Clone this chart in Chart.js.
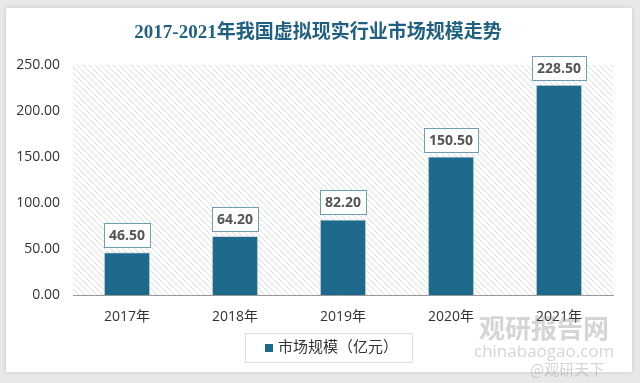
<!DOCTYPE html>
<html>
<head>
<meta charset="utf-8">
<script src="https://cdn.jsdelivr.net/npm/chart.js@4"></script>
<style>
  html, body { margin: 0; padding: 0; background: #e8e8e8; }
  #wrap { position: relative; width: 640px; height: 383px; }
  #card { position: absolute; left: 6px; top: 8px; width: 626px; height: 364px; background: #fff;
          box-shadow: 0 0 4px rgba(0,0,0,0.15); }
  canvas { position: absolute; left: 0; top: 0; }
</style>
</head>
<body>
<div id="wrap">
  <div id="card"></div>
  <canvas id="myChart" width="640" height="383"></canvas>
</div>
<script>
// data
const chartTitle = "2017-2021年我国虚拟现实行业市场规模走势";
const years = ["2017年", "2018年", "2019年", "2020年", "2021年"];
const marketSize = [46.50, 64.20, 82.20, 150.50, 228.50];
const yTicks = [0, 50, 100, 150, 200, 250];

const barColor = "#1d6a8c";
const sansFont = "'Open Sans', 'Noto Sans CJK SC', sans-serif";

// hatched plot background
function makeHatch() {
  const c = document.createElement("canvas");
  c.width = 6; c.height = 6;
  const g = c.getContext("2d");
  g.fillStyle = "#fff";
  g.fillRect(0, 0, 6, 6);
  g.strokeStyle = "#dcdcdc";
  g.lineWidth = 1;
  g.beginPath();
  g.moveTo(0, 0); g.lineTo(6, 6);
  g.moveTo(-3, 3); g.lineTo(3, 9);
  g.moveTo(3, -3); g.lineTo(9, 3);
  g.stroke();
  return c;
}

const extras = {
  id: "extras",
  beforeDatasetsDraw(chart) {
    const { ctx, chartArea: a } = chart;
    ctx.save();
    ctx.fillStyle = ctx.createPattern(makeHatch(), "repeat");
    ctx.fillRect(a.left, a.top, a.right - a.left, a.bottom - a.top);
    // title
    ctx.font = "bold 19px 'Liberation Serif', 'Noto Sans CJK SC', serif";
    ctx.fillStyle = "#1f5f80";
    ctx.textAlign = "center";
    ctx.textBaseline = "middle";
    ctx.fillText(chartTitle, 318, 33);
    ctx.restore();
  },
  afterDatasetsDraw(chart) {
    const { ctx } = chart;
    const meta = chart.getDatasetMeta(0);
    ctx.save();
    // value labels in boxes
    ctx.font = "bold 14px " + sansFont;
    ctx.textAlign = "center";
    ctx.textBaseline = "middle";
    meta.data.forEach((bar, i) => {
      const txt = marketSize[i].toFixed(2);
      const w = ctx.measureText(txt).width + 10;
      const h = 24;
      const x = bar.x - w / 2;
      const y = bar.y - 5 - h;
      ctx.fillStyle = "#fff";
      ctx.fillRect(x, y, w, h);
      ctx.strokeStyle = "#6f9db3";
      ctx.lineWidth = 1;
      ctx.strokeRect(Math.round(x) + 0.5, Math.round(y) + 0.5, Math.round(w), h);
      ctx.fillStyle = "#555";
      ctx.fillText(txt, bar.x, y + h / 2 + 1);
    });
    // legend
    const lx = 245, ly = 333, lw = 167, lh = 29;
    ctx.strokeStyle = "#dddddd";
    ctx.strokeRect(lx + 0.5, ly + 0.5, lw, lh);
    ctx.fillStyle = barColor;
    ctx.fillRect(265, 344, 8, 8);
    ctx.font = "15px " + sansFont;
    ctx.fillStyle = "#333";
    ctx.textAlign = "left";
    ctx.fillText(chart.data.datasets[0].label, 278, 348);
    // watermark
    ctx.globalAlpha = 0.35;
    ctx.fillStyle = "#888";
    ctx.font = "bold 26px 'Noto Sans CJK SC', sans-serif";
    ctx.fillText("观研报告网", 479, 328);
    ctx.font = "17px " + sansFont;
    ctx.fillText("chinabaogao.com", 474, 352);
    ctx.font = "15px 'Noto Sans CJK SC', sans-serif";
    ctx.fillText("@观研天下", 530, 369);
    ctx.restore();
  }
};

const config = {
  type: "bar",
  data: {
    labels: years,
    datasets: [
      {
        label: "市场规模（亿元）",
        data: marketSize,
        backgroundColor: barColor,
        borderColor: "#cfd8dc",
        borderWidth: 1,
        barPercentage: 0.43,
        categoryPercentage: 1.0
      }
    ]
  },
  options: {
    responsive: false,
    animation: false,
    layout: { padding: { left: 0, right: 27, top: 65, bottom: 0 } },
    plugins: {
      legend: { display: false },
      tooltip: { enabled: false },
      title: { display: false }
    },
    scales: {
      x: {
        grid: { display: false, drawTicks: false },
        border: { color: "#999" },
        ticks: { color: "#333", font: { family: sansFont, size: 14 }, padding: 14 },
        afterFit: s => { s.height = 88; }
      },
      y: {
        min: 0,
        max: 250,
        afterBuildTicks: s => { s.ticks = yTicks.map(v => ({ value: v })); },
        grid: { display: false, drawTicks: false },
        border: { display: false },
        ticks: {
          color: "#333",
          font: { family: sansFont, size: 14 },
          padding: 13,
          callback: v => v.toFixed(2)
        },
        afterFit: s => { s.width = 73; }
      }
    }
  },
  plugins: [extras]
};

var myChart = new Chart(document.getElementById("myChart"), config);
</script>
</body>
</html>
